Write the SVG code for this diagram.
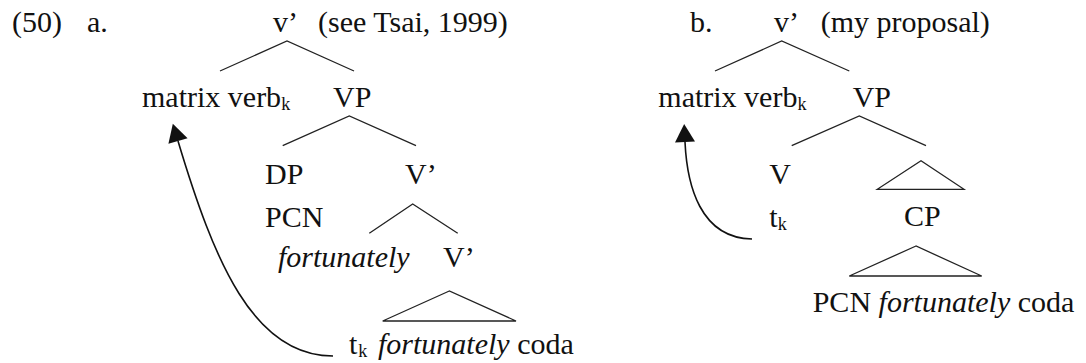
<svg xmlns="http://www.w3.org/2000/svg" width="1086" height="363" viewBox="0 0 1086 363">
<style>
.t{font-family:'Liberation Serif','Times New Roman',serif;font-size:30px;fill:#111}
.it{font-style:italic}
.sub{font-size:18px}
.br{stroke:#222;stroke-width:1.3;fill:none}
.tri{stroke:#222;stroke-width:1.3;fill:none;stroke-linejoin:miter}
.mv{stroke:#111;stroke-width:1.6;fill:none;marker-end:url(#ah)}
</style>
<defs>
<marker id="ah" markerUnits="userSpaceOnUse" markerWidth="24" markerHeight="24" refX="0" refY="0" orient="auto" overflow="visible">
<path d="M0,-10 L18,0 L0,10 z" fill="#111"/>
</marker>
</defs>
<g class="t">
<g id="labels">
<text x="12" y="32">(50)</text>
<text x="87" y="32">a.</text>
<text x="690" y="32">b.</text>
</g>
<g id="a-vbar"><text x="273" y="32">v’</text><text x="318" y="32">(see Tsai, 1999)</text></g>
<g id="a-matrix"><text x="142" y="107">matrix verb<tspan class="sub" dy="3">k</tspan></text></g>
<g id="a-VP"><text x="333" y="107">VP</text></g>
<g id="a-DP"><text x="265" y="184">DP</text><text x="265" y="226.5">PCN</text></g>
<g id="a-Vbar1"><text x="405" y="184">V’</text></g>
<g id="a-adv"><text class="it" x="278" y="267">fortunately</text></g>
<g id="a-Vbar2"><text x="443" y="267">V’</text></g>
<g id="a-leaf"><polygon class="tri" points="449.3,291 382.7,321 516,321"/><text x="349" y="354">t<tspan class="sub" dx="1" dy="3">k</tspan><tspan class="it" x="378" dy="-3">fortunately</tspan> coda</text></g>
<g id="b-vbar"><text x="774" y="32">v’</text><text x="820.7" y="32">(my proposal)</text></g>
<g id="b-matrix"><text x="658.3" y="107">matrix verb<tspan class="sub" dy="3">k</tspan></text></g>
<g id="b-VP"><text x="852.7" y="107">VP</text></g>
<g id="b-V"><text x="769.3" y="183.5">V</text><text x="769.3" y="226.5">t<tspan class="sub" dy="3">k</tspan></text></g>
<g id="b-CP"><polygon class="tri" points="921,160.7 877.3,189.3 964,189.3"/><text x="904" y="226">CP</text></g>
<g id="b-leaf"><polygon class="tri" points="916,246 849.3,276 981.7,276"/><text x="812.7" y="312">PCN <tspan class="it">fortunately</tspan> coda</text></g>
</g>
<g id="connectors">
<path class="br" d="M220,71 L287,41 L354,71"/>
<path class="br" d="M282.7,145.7 L349.3,116 L416,145.7"/>
<path class="br" d="M369.3,233.3 L412.7,204 L457.7,233.3"/>
<path class="br" d="M715,71 L781.7,41 L849.3,71"/>
<path class="br" d="M791.7,145.7 L859.3,116 L926,145.7"/>
<path class="mv" d="M333,356 C253,356 214,261 178,141"/>
<path class="mv" d="M752,239 C700,238 687,185 685,142"/>
</g>
</svg>
